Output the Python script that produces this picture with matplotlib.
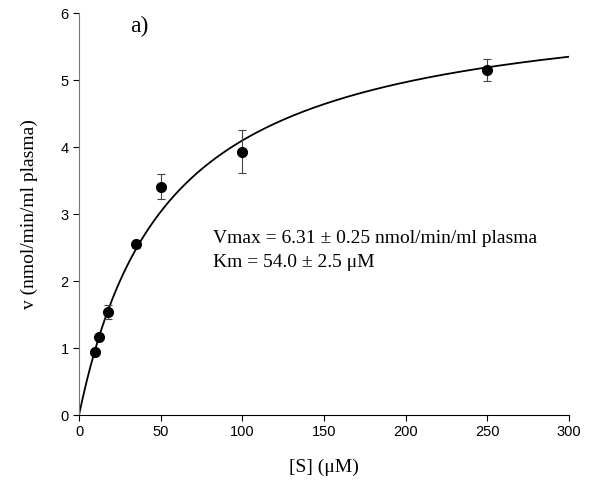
import matplotlib.pyplot as plt
import numpy as np

# substrate conc (uM) and rate (nmol/min/ml plasma)
s_conc = [10, 12.5, 18, 35, 50, 100, 250]
rate = [0.94, 1.17, 1.54, 2.55, 3.41, 3.93, 5.15]
rate_err = [0.04, 0.04, 0.10, 0.05, 0.18, 0.32, 0.17]

# fitted Michaelis-Menten parameters
vmax = 6.31
km = 54.0

fig = plt.figure(figsize=(5.91, 4.82), dpi=100)
ax = fig.add_axes([0.1337, 0.139, 0.829, 0.834])

s_fit = np.linspace(0, 300, 400)
ax.plot(s_fit, vmax * s_fit / (km + s_fit), color='black', lw=1.3)
ax.errorbar(s_conc, rate, yerr=rate_err, fmt='o', color='black', ms=7,
            ecolor='#444444', elinewidth=0.8, capsize=3, capthick=0.8)

ax.set_xlim(0, 300)
ax.set_ylim(0, 6)
ax.set_xticks(range(0, 301, 50))
ax.set_yticks(range(0, 7))
for side in ['top', 'right']:
    ax.spines[side].set_visible(False)
ax.spines['left'].set_color('#777777')
ax.tick_params(direction='out', length=4, labelsize=10.5)
for lab in ax.get_xticklabels() + ax.get_yticklabels():
    lab.set_family('Liberation Sans')

serif = 'Liberation Serif'
ax.set_xlabel('[S] (\u03bcM)', family=serif, fontsize=14, labelpad=14)
ax.set_ylabel('v (nmol/min/ml plasma)', family=serif, fontsize=14, labelpad=16)
ax.text(31, 5.8, 'a)', family=serif, fontsize=17, va='center')
ax.text(82, 2.63, 'Vmax = 6.31 \u00b1 0.25 nmol/min/ml plasma', family=serif,
        fontsize=14, va='center')
ax.text(82, 2.28, 'Km = 54.0 \u00b1 2.5 \u03bcM', family=serif,
        fontsize=14, va='center')

fig.savefig('out.png')
